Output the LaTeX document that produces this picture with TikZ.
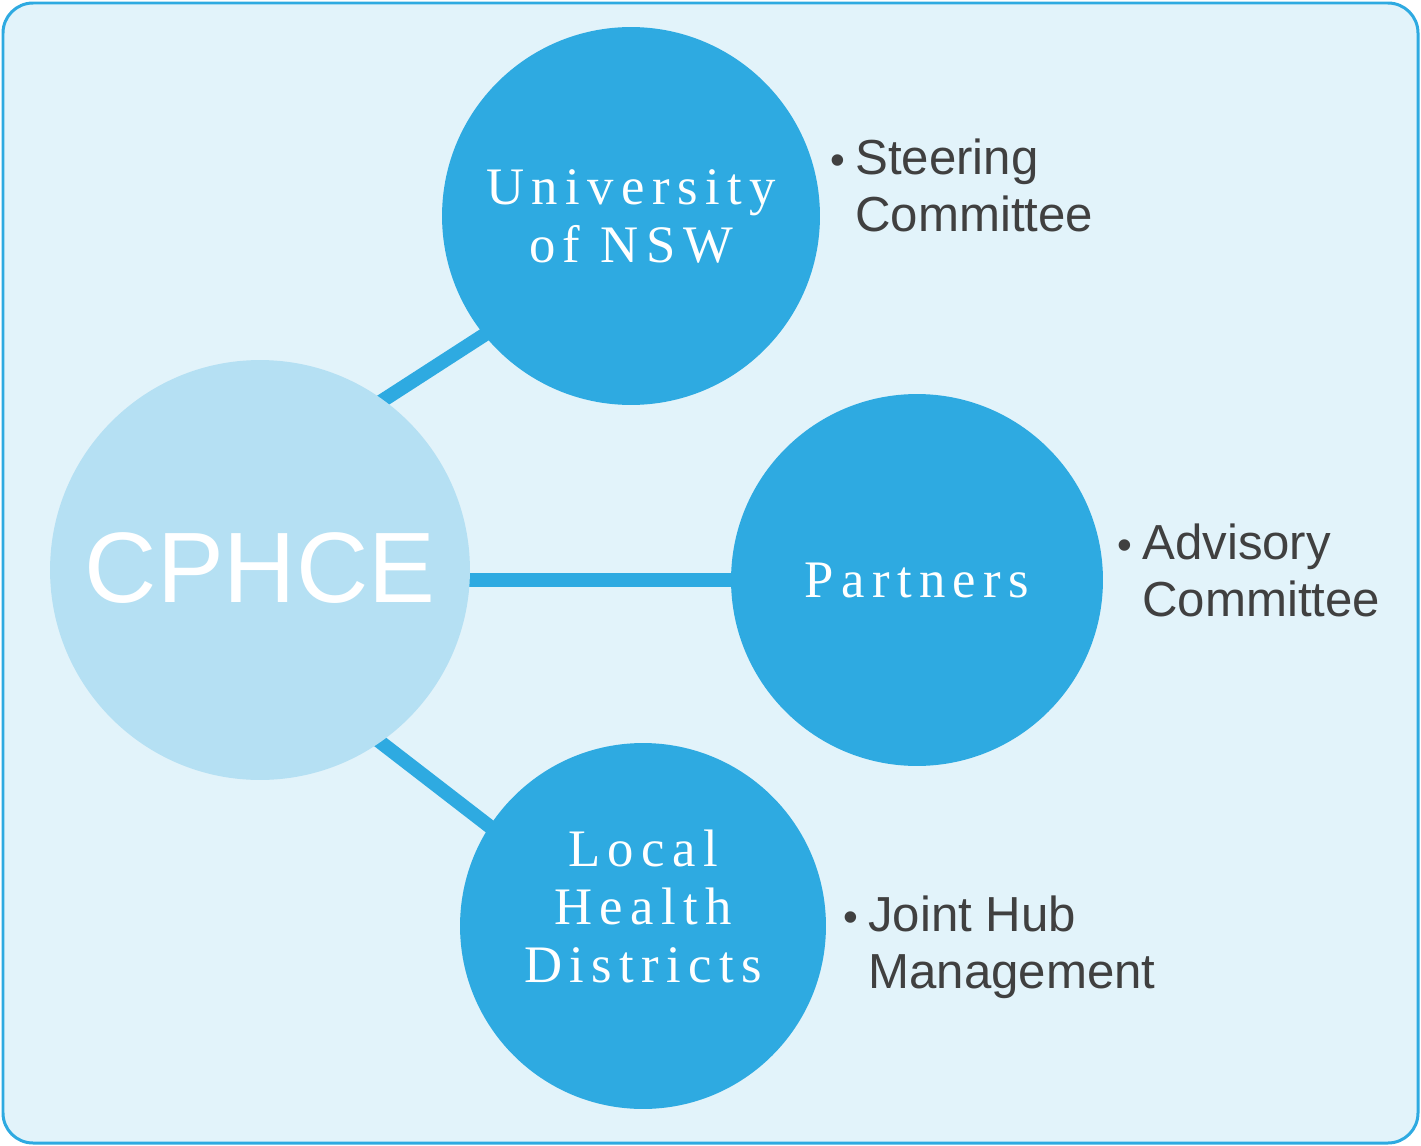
\documentclass[tikz,border=0pt]{standalone}
\usepackage{fontspec}
\setmainfont{Liberation Sans}
\newfontfamily\hubfont[LetterSpace=14]{Liberation Serif}
\usetikzlibrary{positioning, backgrounds}

\definecolor{frameblue}{HTML}{2EAAE1}
\definecolor{panelbg}{HTML}{E2F3FA}
\definecolor{corefill}{HTML}{B5E0F3}
\definecolor{labelgray}{HTML}{404040}

\tikzset{
  hub/.style={circle, fill=frameblue, text=white, align=center, inner sep=0pt,
    font=\hubfont\fontsize{30pt}{33pt}\selectfont},
  link/.style={frameblue, line width=0.28cm, shorten <=-0.2cm, shorten >=-0.2cm},
  note/.style={anchor=base west, align=left, text=labelgray, inner sep=0pt,
    font=\fontsize{28pt}{32pt}\selectfont},
}
\newcommand{\dotitem}{\llap{{\fontsize{24pt}{24pt}\selectfont\textbullet}\hspace{6pt}}}

\begin{document}
\begin{tikzpicture}[x=0.02cm, y=-0.02cm]
  \useasboundingbox (0,0) rectangle (1421,1146);

  % the four bodies
  \node[hub, fill=corefill, minimum size=8.4cm, font=\fontsize{57pt}{57pt}\selectfont] (cphce) at (260,570) {\raisebox{3pt}{CPHCE}};
  \node[hub, minimum size=7.56cm] (unsw) at (631,216) {University\\of NSW};
  \node[hub, minimum size=7.44cm] (partners) at (917,580) {Partners};
  \node[hub, minimum size=7.32cm] (lhd) at (643,926) {};
  \node[hub, fill=none] (lhdtext) at ([yshift=0.4cm]lhd.center) {Local\\Health\\Districts};

  % committees (placed on the baseline of the last line)
  \node[note] (steer) at (855,231) {\dotitem Steering\\Committee};
  \node[note] (advis) at (1142,616) {\dotitem Advisory\\Committee};
  \node[note] (joint) at (868,988) {\dotitem Joint Hub\\Management};

  \begin{scope}[on background layer]
    \draw[frameblue, fill=panelbg, line width=0.06cm, rounded corners=0.6cm] (3,3) rectangle (1418,1143);
    \draw[link] (cphce.54) -- (unsw.219);
    \draw[link] (cphce.east |- partners.west) -- (partners.west);
    \draw[link] (cphce.-55) -- (lhd.147);
  \end{scope}
\end{tikzpicture}
\end{document}
